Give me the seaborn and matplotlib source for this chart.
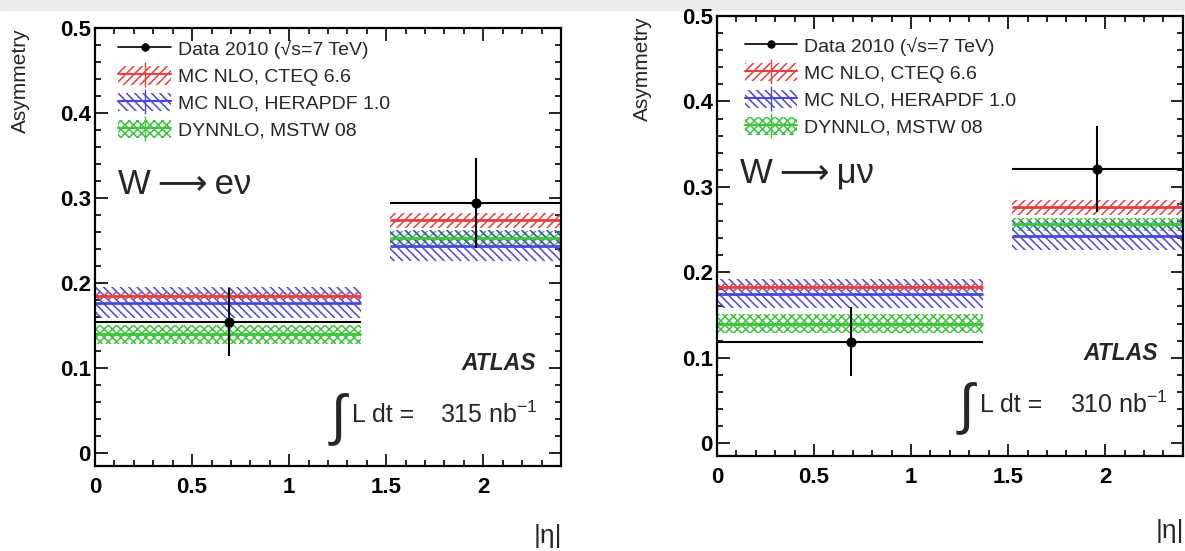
import numpy as np
import pandas as pd
import matplotlib
matplotlib.use("Agg")
import matplotlib.pyplot as plt
from matplotlib.patches import Patch, Rectangle
from matplotlib.lines import Line2D
from matplotlib.ticker import MultipleLocator, FuncFormatter
import seaborn as sns

# |eta| bins
bin_lo = [0.0, 1.52]
bin_hi = [1.37, 2.4]
eta_pts = [0.69, 1.96]

# W -> e nu
e_data = [0.154, 0.294]
e_err = [0.040, 0.053]
e_cteq = [0.185, 0.274]
e_cteq_err = [0.005, 0.009]
e_hera = [0.177, 0.244]
e_hera_err = [0.018, 0.018]
e_mstw = [0.140, 0.253]
e_mstw_err = [0.011, 0.008]

# W -> mu nu
mu_data = [0.119, 0.321]
mu_err = [0.040, 0.050]
mu_cteq = [0.183, 0.276]
mu_cteq_err = [0.005, 0.009]
mu_hera = [0.175, 0.243]
mu_hera_err = [0.017, 0.017]
mu_mstw = [0.140, 0.256]
mu_mstw_err = [0.011, 0.008]

labels = ["Data 2010 (√s=7 TeV)", "MC NLO, CTEQ 6.6",
          "MC NLO, HERAPDF 1.0", "DYNNLO, MSTW 08"]
red = "#e8403f"
blue = "#4a48d8"
green = "#3cc43c"

sns.set_theme(style="ticks")
plt.rcParams["font.family"] = ["Liberation Sans", "DejaVu Sans"]
plt.rcParams["mathtext.fontset"] = "custom"
plt.rcParams["mathtext.rm"] = "Liberation Sans"
plt.rcParams["mathtext.it"] = "Liberation Sans:italic"
plt.rcParams["hatch.linewidth"] = 1.1

fig = plt.figure(figsize=(11.85, 5.51), dpi=100)
fig.patches.append(Rectangle((0, 1 - 10 / 551), 1, 10 / 551, transform=fig.transFigure,
                             color="#ebebeb", zorder=-5))

ax1 = fig.add_axes([0.0802, 0.1543, 0.3932, 0.7949])
ax2 = fig.add_axes([0.6050, 0.1724, 0.3932, 0.7986])


def band(ax, cen, err, color, hatch):
    for lo, hi, c, e in zip(bin_lo, bin_hi, cen, err):
        ax.fill_between([lo, hi], c - e, c + e, facecolor="none", edgecolor=color,
                        hatch=hatch, linewidth=0)
        ax.hlines(c, lo, hi, color=color, lw=2)


def panel(ax, data, derr, cteq, cteq_err, hera, hera_err, mstw, mstw_err,
          title, lumi, leg_xy, int_x, lumi_x, xlab_y):
    band(ax, mstw, mstw_err, green, "xxxx")
    band(ax, hera, hera_err, blue, "\\\\\\\\")
    band(ax, cteq, cteq_err, red, "////")
    ax.hlines(data, bin_lo, bin_hi, color="black", lw=1.5)
    ax.errorbar(eta_pts, data, yerr=derr, fmt="none", ecolor="black", elinewidth=1.5)
    df = pd.DataFrame({"eta": eta_pts, "A": data})
    sns.scatterplot(data=df, x="eta", y="A", ax=ax, color="black", s=45,
                    edgecolor="black", zorder=5, legend=False)

    ax.set_xlim(0, 2.4)
    ax.set_ylim(-0.015, 0.5)
    ax.xaxis.set_major_locator(MultipleLocator(0.5))
    ax.xaxis.set_minor_locator(MultipleLocator(0.1))
    ax.yaxis.set_major_locator(MultipleLocator(0.1))
    ax.yaxis.set_minor_locator(MultipleLocator(0.02))
    fmt = FuncFormatter(lambda v, p: f"{v:g}")
    ax.xaxis.set_major_formatter(fmt)
    ax.yaxis.set_major_formatter(fmt)
    ax.tick_params(which="both", direction="in", top=True, right=True, width=1.2,
                   labelsize=16, colors="black")
    ax.tick_params(which="major", length=9)
    ax.tick_params(axis="x", which="major", pad=8)
    ax.tick_params(axis="y", which="major", pad=3)
    ax.tick_params(which="minor", length=4.5)
    for t in ax.get_xticklabels() + ax.get_yticklabels():
        t.set_fontweight("bold")
    for s in ax.spines.values():
        s.set_linewidth(1.6)
        s.set_color("black")
    ax.set_xlabel("")
    ax.set_ylabel("")
    ax.text(0.972, xlab_y, "|η|", transform=ax.transAxes, ha="center", va="center",
            fontsize=19)
    ax.text(-0.16, 1.0, "Asymmetry", transform=ax.transAxes, rotation=90,
            ha="center", va="top", fontsize=15)

    ax.text(0.12, 0.316, "W\u2009⟶\u2009" + title, fontsize=25, va="center")
    ax.text(2.27, 0.105, "ATLAS", fontsize=16.5, fontweight="bold", style="italic",
            ha="right", va="center")
    ax.text(int_x, 0.040, "$\\int$", fontsize=40, va="center", ha="left")
    ax.text(int_x + 0.125, 0.045, "L dt =", fontsize=18, ha="left", va="center")
    ax.text(lumi_x, 0.045, lumi + " nb$^{\\mathregular{-1}}$",
            fontsize=18, ha="right", va="center")

    handles = [
        (Line2D([], [], color="black", lw=1.2, marker="|", markersize=6),
         Line2D([], [], color="black", lw=0, marker="o", markersize=5)),
        (Patch(facecolor="none", edgecolor=red, hatch="////", lw=0),
         Line2D([], [], color=red, lw=1.5, marker="|", markersize=18)),
        (Patch(facecolor="none", edgecolor=blue, hatch="\\\\\\\\", lw=0),
         Line2D([], [], color=blue, lw=1.5, marker="|", markersize=18)),
        (Patch(facecolor="none", edgecolor=green, hatch="xxxx", lw=0),
         Line2D([], [], color=green, lw=1.5, marker="|", markersize=18)),
    ]
    ax.legend(handles, labels, loc="upper left", bbox_to_anchor=leg_xy, frameon=False,
              fontsize=14, handlelength=2.7, handleheight=1.1, handletextpad=0.35,
              labelspacing=0.36, borderpad=0, borderaxespad=0)


panel(ax1, e_data, e_err, e_cteq, e_cteq_err, e_hera, e_hera_err, e_mstw, e_mstw_err,
      "eν", "315", (0.05, 0.975), 1.20, 2.28, -0.16)
panel(ax2, mu_data, mu_err, mu_cteq, mu_cteq_err, mu_hera, mu_hera_err, mu_mstw,
      mu_mstw_err, "μν", "310", (0.06, 0.955), 1.23, 2.32, -0.17)

fig.savefig("out.png", dpi=100)
